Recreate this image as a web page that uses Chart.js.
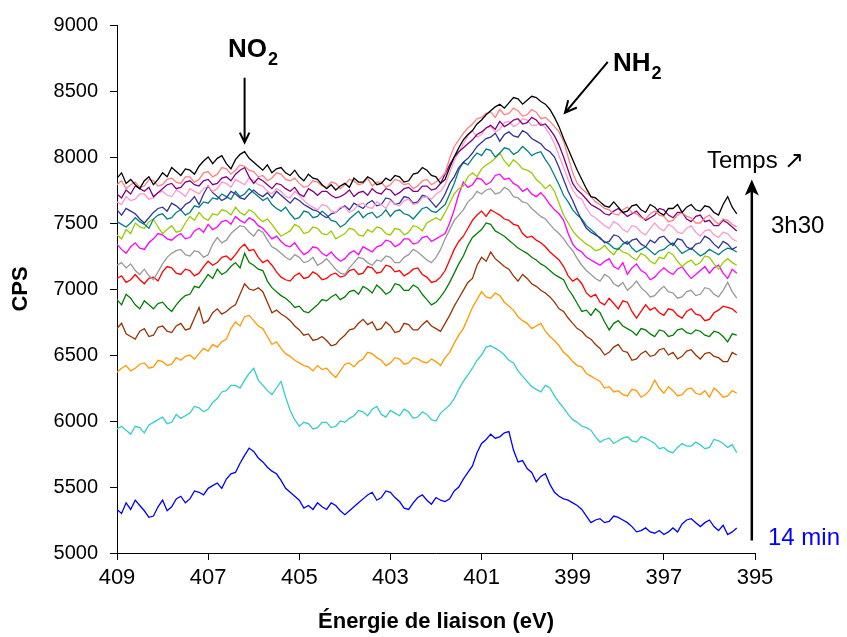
<!DOCTYPE html>
<html>
<head>
<meta charset="utf-8">
<script src="https://cdn.jsdelivr.net/npm/chart.js@4"></script>
<style>
	body { margin: 0; background: #fff; }
</style>
</head>
<body>
<canvas id="xps" width="847" height="637"></canvas>
<script>
// énergies de liaison (eV), pas de 0.1
const energies = [
	409.0, 408.9, 408.8, 408.7, 408.6, 408.5, 408.4, 408.3, 408.2, 408.1, 408.0, 407.9, 407.8, 407.7, 407.6, 407.5, 407.4, 407.3, 407.2, 407.1, 407.0, 406.9, 406.8, 406.7, 406.6, 406.5, 406.4, 406.3, 406.2, 406.1, 406.0, 405.9, 405.8, 405.7, 405.6,
	405.5, 405.4, 405.3, 405.2, 405.1, 405.0, 404.9, 404.8, 404.7, 404.6, 404.5, 404.4, 404.3, 404.2, 404.1, 404.0, 403.9, 403.8, 403.7, 403.6, 403.5, 403.4, 403.3, 403.2, 403.1, 403.0, 402.9, 402.8, 402.7, 402.6, 402.5, 402.4, 402.3, 402.2, 402.1,
	402.0, 401.9, 401.8, 401.7, 401.6, 401.5, 401.4, 401.3, 401.2, 401.1, 401.0, 400.9, 400.8, 400.7, 400.6, 400.5, 400.4, 400.3, 400.2, 400.1, 400.0, 399.9, 399.8, 399.7, 399.6, 399.5, 399.4, 399.3, 399.2, 399.1, 399.0, 398.9, 398.8, 398.7, 398.6,
	398.5, 398.4, 398.3, 398.2, 398.1, 398.0, 397.9, 397.8, 397.7, 397.6, 397.5, 397.4, 397.3, 397.2, 397.1, 397.0, 396.9, 396.8, 396.7, 396.6, 396.5, 396.4, 396.3, 396.2, 396.1, 396.0, 395.9, 395.8, 395.7, 395.6, 395.5, 395.4
];

const xTicks = [409, 407, 405, 403, 401, 399, 397, 395];
const yTicks = [5000, 5500, 6000, 6500, 7000, 7500, 8000, 8500, 9000];

// spectres (CPS), du premier (14 min) au dernier (3h30)
const bleu = [
	5330, 5300, 5380, 5330, 5400, 5360, 5320, 5270, 5280, 5350, 5400, 5320, 5350, 5410, 5430, 5380, 5410, 5470, 5460, 5440, 5490, 5510, 5530, 5490, 5560, 5600, 5610, 5680, 5740, 5795, 5770, 5720, 5690, 5650, 5620,
	5600, 5550, 5490, 5460, 5430, 5400, 5340, 5360, 5330, 5380, 5350, 5330, 5380, 5360, 5320, 5290, 5320, 5350, 5380, 5410, 5440, 5460, 5400, 5420, 5470, 5460, 5420, 5390, 5340, 5330, 5380, 5420, 5440, 5400, 5370,
	5420, 5400, 5390, 5410, 5470, 5500, 5560, 5610, 5660, 5760, 5830, 5860, 5900, 5870, 5880, 5910, 5920, 5780, 5690, 5700, 5640, 5610, 5540, 5580, 5600, 5520, 5460, 5430, 5410, 5400, 5380, 5360, 5330, 5280, 5230,
	5250, 5260, 5230, 5240, 5280, 5270, 5250, 5230, 5200, 5160, 5170, 5190, 5160, 5150, 5170, 5140, 5160, 5190, 5160, 5220, 5250, 5260, 5230, 5200, 5230, 5250, 5200, 5170, 5210, 5140, 5160, 5190
];
const turquoise = [
	5940, 5960, 5930, 5900, 5960, 5950, 5910, 5970, 5990, 6010, 6030, 5980, 5990, 6050, 6020, 6040, 6060, 6110, 6100, 6070, 6090, 6140, 6170, 6220, 6230, 6270, 6270, 6250, 6310, 6360, 6400, 6310, 6270, 6230, 6200,
	6250, 6300, 6180, 6080, 6010, 5960, 5990, 5980, 5940, 5950, 5990, 5990, 5950, 5960, 6000, 5990, 6020, 6040, 6080, 6070, 6040, 6090, 6110, 6050, 6030, 6080, 6060, 6040, 6090, 6070, 6020, 6030, 6070, 6050, 6010,
	6000, 6060, 6090, 6120, 6170, 6240, 6300, 6350, 6400, 6460, 6500, 6560, 6570, 6550, 6530, 6500, 6460, 6440, 6380, 6340, 6300, 6260, 6240, 6220, 6270, 6250, 6190, 6140, 6100, 6050, 6010, 5990, 5960, 5950, 5930,
	5880, 5840, 5860, 5870, 5830, 5850, 5870, 5880, 5850, 5840, 5880, 5870, 5850, 5830, 5790, 5800, 5770, 5760, 5800, 5830, 5810, 5810, 5840, 5820, 5790, 5800, 5860, 5850, 5830, 5800, 5820, 5760
];
const orange = [
	6370, 6400, 6420, 6380, 6400, 6430, 6440, 6400, 6410, 6460, 6450, 6420, 6430, 6480, 6460, 6490, 6500, 6470, 6510, 6550, 6530, 6580, 6560, 6600, 6620, 6700, 6750, 6720, 6790, 6800, 6760, 6720, 6700, 6640, 6580,
	6600, 6550, 6510, 6490, 6460, 6440, 6420, 6410, 6380, 6420, 6390, 6400, 6360, 6330, 6380, 6430, 6440, 6410, 6450, 6470, 6520, 6510, 6480, 6460, 6420, 6440, 6480, 6470, 6430, 6440, 6480, 6470, 6450, 6440, 6470,
	6450, 6420, 6480, 6520, 6590, 6650, 6700, 6780, 6860, 6920, 6980, 6940, 6930, 6970, 6950, 6900, 6870, 6840, 6790, 6760, 6740, 6700, 6720, 6740, 6680, 6640, 6610, 6570, 6520, 6490, 6450, 6420, 6410, 6360, 6340,
	6320, 6300, 6250, 6260, 6220, 6230, 6200, 6190, 6240, 6230, 6180, 6200, 6240, 6310, 6250, 6210, 6260, 6230, 6190, 6200, 6240, 6250, 6210, 6200, 6230, 6180, 6250, 6220, 6180, 6190, 6230, 6210
];
const marron = [
	6700, 6740, 6660, 6640, 6620, 6680, 6700, 6640, 6650, 6710, 6720, 6680, 6670, 6720, 6740, 6690, 6700, 6780, 6860, 6740, 6760, 6820, 6850, 6810, 6830, 6860, 6880, 6960, 7040, 7000, 6990, 7010, 6980, 6900, 6820,
	6840, 6810, 6790, 6760, 6720, 6690, 6650, 6660, 6610, 6620, 6640, 6610, 6570, 6580, 6620, 6650, 6690, 6700, 6740, 6770, 6730, 6750, 6690, 6700, 6750, 6720, 6670, 6680, 6740, 6730, 6690, 6690, 6730, 6760, 6720,
	6700, 6680, 6740, 6800, 6870, 6930, 6990, 7050, 7080, 7180, 7240, 7210, 7280, 7230, 7200, 7170, 7150, 7100, 7060, 7110, 7080, 7040, 7020, 6990, 6970, 6940, 6900, 6850, 6830, 6780, 6740, 6700, 6680, 6640, 6620,
	6580, 6550, 6500, 6520, 6560, 6580, 6530, 6520, 6460, 6470, 6510, 6530, 6490, 6500, 6540, 6550, 6500, 6520, 6470, 6490, 6530, 6540, 6500, 6470, 6510, 6520, 6490, 6480, 6450, 6450, 6520, 6500
];
const vert = [
	6920, 6880, 6960, 6930, 6880, 6850, 6910, 6880, 6850, 6890, 6900, 6860, 6830, 6880, 6920, 6950, 6960, 7020, 7010, 7060, 7110, 7080, 7150, 7110, 7130, 7170, 7200, 7160, 7270, 7200, 7180, 7150, 7140, 7060, 7010,
	6980, 6950, 6930, 6900, 6860, 6870, 6830, 6820, 6850, 6880, 6920, 6910, 6940, 6960, 6920, 6940, 6980, 6990, 6960, 7020, 7000, 6970, 7030, 7000, 6960, 6980, 7040, 7030, 6990, 6990, 7030, 7010, 6960, 6920, 6880,
	6900, 6940, 6990, 7050, 7120, 7190, 7250, 7330, 7390, 7420, 7450, 7500, 7490, 7440, 7420, 7400, 7370, 7340, 7310, 7290, 7270, 7240, 7220, 7190, 7170, 7140, 7110, 7090, 7070, 7000, 6950, 6890, 6830, 6840, 6800,
	6850, 6820, 6750, 6690, 6740, 6760, 6720, 6700, 6680, 6650, 6700, 6690, 6660, 6640, 6690, 6680, 6640, 6650, 6690, 6700, 6670, 6660, 6690, 6680, 6650, 6640, 6680, 6670, 6640, 6600, 6660, 6650
];
const rouge = [
	7080, 7100, 7050, 7070, 7110, 7070, 7040, 7080, 7090, 7060, 7130, 7170, 7160, 7120, 7110, 7150, 7140, 7100, 7120, 7170, 7210, 7180, 7200, 7240, 7250, 7220, 7260, 7310, 7340, 7290, 7300, 7240, 7200, 7220, 7180,
	7130, 7090, 7070, 7060, 7100, 7120, 7080, 7090, 7130, 7110, 7070, 7080, 7110, 7120, 7090, 7100, 7140, 7150, 7110, 7120, 7170, 7160, 7120, 7130, 7180, 7170, 7130, 7140, 7100, 7120, 7150, 7160, 7110, 7090, 7050,
	7060, 7090, 7140, 7220, 7300, 7360, 7400, 7460, 7520, 7560, 7590, 7550, 7600, 7580, 7560, 7530, 7520, 7490, 7480, 7420, 7390, 7400, 7370, 7350, 7320, 7280, 7250, 7220, 7170, 7100, 7060, 7080, 7040, 6970, 6940,
	6960, 6900, 6880, 6930, 6890, 6850, 6910, 6900, 6830, 6780, 6830, 6880, 6840, 6860, 6820, 6800, 6850, 6840, 6800, 6780, 6830, 6850, 6810, 6800, 6760, 6770, 6820, 6840, 6870, 6860, 6850, 6820
];
const gris = [
	7180, 7200, 7160, 7190, 7140, 7110, 7150, 7100, 7070, 7130, 7190, 7240, 7270, 7290, 7300, 7260, 7250, 7290, 7280, 7240, 7260, 7340, 7390, 7350, 7370, 7420, 7450, 7480, 7470, 7430, 7400, 7450, 7430, 7370, 7320,
	7300, 7270, 7240, 7220, 7260, 7240, 7200, 7210, 7240, 7180, 7200, 7230, 7190, 7150, 7120, 7110, 7160, 7200, 7240, 7230, 7200, 7180, 7220, 7210, 7250, 7240, 7200, 7200, 7240, 7260, 7300, 7280, 7250, 7220, 7200,
	7240, 7300, 7380, 7450, 7520, 7560, 7600, 7660, 7690, 7740, 7720, 7750, 7760, 7720, 7730, 7770, 7750, 7700, 7690, 7660, 7650, 7610, 7580, 7550, 7530, 7490, 7450, 7420, 7380, 7330, 7290, 7230, 7180, 7140, 7110,
	7080, 7060, 7110, 7090, 7040, 7020, 7050, 6990, 7020, 7060, 7010, 6980, 6940, 6950, 6990, 7020, 6980, 6970, 6930, 6940, 6980, 6990, 6950, 6960, 7010, 7000, 6960, 6940, 6990, 7050, 6980, 6930
];
const magenta = [
	7340, 7300, 7270, 7320, 7350, 7310, 7300, 7350, 7380, 7420, 7410, 7380, 7370, 7400, 7420, 7380, 7390, 7440, 7460, 7430, 7490, 7450, 7470, 7510, 7520, 7490, 7550, 7520, 7500, 7540, 7520, 7480, 7460, 7420, 7380,
	7400, 7360, 7330, 7320, 7350, 7300, 7260, 7280, 7320, 7310, 7270, 7250, 7280, 7240, 7210, 7230, 7270, 7290, 7260, 7320, 7300, 7280, 7320, 7330, 7370, 7360, 7320, 7340, 7380, 7380, 7340, 7350, 7390, 7400, 7360,
	7380, 7400, 7420, 7500, 7600, 7720, 7810, 7770, 7790, 7840, 7830, 7790, 7810, 7860, 7870, 7830, 7840, 7800, 7780, 7740, 7760, 7720, 7700, 7730, 7690, 7640, 7600, 7570, 7520, 7420, 7340, 7300, 7280, 7240, 7220,
	7200, 7180, 7210, 7230, 7170, 7150, 7200, 7110, 7160, 7190, 7140, 7120, 7070, 7090, 7130, 7160, 7130, 7110, 7150, 7170, 7120, 7080, 7110, 7140, 7170, 7120, 7160, 7180, 7120, 7080, 7150, 7120
];
const jauneVert = [
	7410, 7380, 7450, 7420, 7500, 7470, 7460, 7510, 7530, 7470, 7420, 7450, 7480, 7430, 7440, 7500, 7550, 7520, 7580, 7540, 7520, 7570, 7560, 7600, 7590, 7560, 7620, 7580, 7560, 7600, 7580, 7540, 7510, 7530, 7490,
	7440, 7400, 7420, 7440, 7490, 7470, 7420, 7430, 7470, 7460, 7420, 7410, 7440, 7380, 7400, 7420, 7460, 7450, 7410, 7400, 7450, 7430, 7470, 7460, 7420, 7410, 7460, 7450, 7410, 7430, 7480, 7470, 7440, 7500, 7520,
	7540, 7520, 7580, 7650, 7720, 7760, 7780, 7850, 7880, 7850, 7910, 7940, 7960, 7990, 8030, 7970, 7930, 7980, 7950, 7910, 7900, 7880, 7830, 7800, 7760, 7790, 7740, 7650, 7560, 7500, 7440, 7400, 7370, 7340, 7320,
	7290, 7300, 7330, 7290, 7260, 7310, 7280, 7270, 7240, 7220, 7270, 7250, 7210, 7190, 7240, 7230, 7280, 7260, 7210, 7170, 7200, 7220, 7180, 7200, 7250, 7240, 7190, 7150, 7200, 7230, 7200, 7180
];
const sarcelle = [
	7510, 7490, 7470, 7500, 7540, 7510, 7490, 7460, 7530, 7560, 7570, 7530, 7540, 7580, 7600, 7560, 7580, 7630, 7620, 7660, 7650, 7690, 7680, 7720, 7700, 7680, 7740, 7700, 7720, 7760, 7730, 7700, 7670, 7690, 7640,
	7610, 7590, 7620, 7570, 7530, 7540, 7590, 7580, 7540, 7550, 7590, 7560, 7520, 7510, 7470, 7490, 7530, 7560, 7590, 7540, 7570, 7580, 7540, 7560, 7600, 7550, 7590, 7600, 7570, 7560, 7530, 7570, 7610, 7620, 7590,
	7580, 7610, 7640, 7720, 7800, 7900, 7960, 7940, 7990, 8030, 8010, 8060, 8050, 8000, 8030, 8070, 8060, 8020, 8040, 8080, 8050, 8010, 8030, 8040, 7980, 7930, 7860, 7790, 7710, 7660, 7600, 7560, 7530, 7480, 7450,
	7420, 7380, 7360, 7340, 7310, 7300, 7340, 7360, 7310, 7280, 7300, 7320, 7290, 7260, 7290, 7300, 7330, 7350, 7310, 7270, 7290, 7310, 7280, 7250, 7270, 7300, 7280, 7260, 7290, 7310, 7300, 7280
];
const bleuFonce = [
	7600, 7560, 7610, 7590, 7570, 7530, 7500, 7540, 7580, 7610, 7620, 7590, 7650, 7630, 7600, 7640, 7660, 7700, 7640, 7720, 7780, 7730, 7700, 7670, 7690, 7740, 7720, 7690, 7680, 7720, 7750, 7720, 7700, 7730, 7690,
	7740, 7710, 7680, 7650, 7690, 7670, 7640, 7620, 7600, 7590, 7560, 7540, 7570, 7580, 7610, 7630, 7600, 7650, 7630, 7610, 7650, 7670, 7630, 7640, 7690, 7680, 7640, 7650, 7700, 7690, 7650, 7660, 7710, 7700, 7660,
	7620, 7660, 7720, 7800, 7850, 7920, 7960, 7990, 8030, 8080, 8110, 8140, 8150, 8180, 8120, 8170, 8190, 8160, 8150, 8200, 8180, 8140, 8120, 8100, 8060, 8040, 8000, 7920, 7830, 7740, 7670, 7590, 7520, 7460, 7430,
	7410, 7390, 7350, 7360, 7410, 7400, 7360, 7340, 7370, 7380, 7340, 7320, 7370, 7350, 7390, 7400, 7360, 7330, 7380, 7370, 7320, 7300, 7340, 7350, 7400, 7380, 7340, 7310, 7360, 7340, 7300, 7320
];
const rose = [
	7660, 7640, 7700, 7670, 7680, 7720, 7720, 7680, 7690, 7730, 7740, 7710, 7700, 7750, 7730, 7700, 7760, 7740, 7720, 7760, 7780, 7740, 7760, 7810, 7800, 7770, 7830, 7810, 7790, 7840, 7820, 7790, 7780, 7740, 7720,
	7760, 7740, 7700, 7690, 7740, 7710, 7670, 7640, 7620, 7600, 7640, 7630, 7590, 7580, 7620, 7620, 7580, 7600, 7640, 7650, 7620, 7610, 7660, 7640, 7610, 7670, 7640, 7630, 7670, 7680, 7640, 7650, 7690, 7700, 7680,
	7720, 7740, 7790, 7880, 7970, 8040, 8100, 8160, 8200, 8150, 8170, 8220, 8230, 8190, 8210, 8260, 8270, 8230, 8250, 8290, 8280, 8240, 8240, 8260, 8220, 8170, 8100, 8010, 7920, 7830, 7750, 7700, 7680, 7610, 7560,
	7540, 7510, 7480, 7460, 7510, 7490, 7450, 7430, 7480, 7470, 7430, 7410, 7460, 7500, 7460, 7440, 7490, 7470, 7430, 7420, 7460, 7480, 7430, 7400, 7440, 7450, 7410, 7390, 7430, 7420, 7380, 7360
];
const violet = [
	7720, 7690, 7750, 7720, 7780, 7760, 7740, 7770, 7700, 7730, 7760, 7790, 7800, 7760, 7770, 7810, 7820, 7790, 7780, 7820, 7830, 7790, 7800, 7840, 7850, 7820, 7870, 7900, 7920, 7850, 7800, 7840, 7820, 7790, 7760,
	7800, 7790, 7760, 7740, 7770, 7720, 7700, 7760, 7740, 7710, 7740, 7740, 7710, 7690, 7700, 7720, 7750, 7700, 7730, 7740, 7710, 7760, 7730, 7720, 7760, 7750, 7710, 7730, 7760, 7770, 7740, 7740, 7780, 7780, 7750,
	7760, 7800, 7870, 7940, 8000, 8040, 8070, 8100, 8130, 8170, 8190, 8220, 8240, 8210, 8270, 8230, 8250, 8280, 8290, 8250, 8260, 8300, 8280, 8240, 8250, 8210, 8160, 8090, 8000, 7900, 7800, 7750, 7720, 7680, 7640,
	7620, 7600, 7570, 7560, 7590, 7610, 7580, 7550, 7570, 7590, 7550, 7520, 7540, 7560, 7610, 7600, 7560, 7540, 7580, 7580, 7530, 7510, 7550, 7560, 7510, 7520, 7480, 7480, 7520, 7500, 7470, 7440
];
const saumon = [
	7790, 7820, 7760, 7790, 7810, 7770, 7780, 7830, 7820, 7780, 7790, 7830, 7840, 7810, 7800, 7850, 7850, 7810, 7830, 7880, 7890, 7850, 7870, 7920, 7910, 7870, 7900, 7940, 7930, 7900, 7890, 7850, 7860, 7820, 7840,
	7880, 7870, 7830, 7820, 7840, 7800, 7770, 7780, 7820, 7810, 7780, 7770, 7810, 7800, 7760, 7790, 7830, 7820, 7790, 7800, 7840, 7780, 7810, 7810, 7770, 7790, 7830, 7820, 7790, 7800, 7760, 7780, 7820, 7830, 7790,
	7810, 7840, 7880, 7990, 8080, 8130, 8180, 8220, 8250, 8290, 8300, 8330, 8340, 8300, 8360, 8320, 8330, 8370, 8350, 8310, 8320, 8360, 8340, 8290, 8300, 8270, 8230, 8190, 8120, 8000, 7880, 7800, 7760, 7730, 7700,
	7660, 7640, 7610, 7600, 7570, 7560, 7600, 7620, 7580, 7570, 7540, 7530, 7570, 7590, 7560, 7550, 7510, 7520, 7560, 7580, 7550, 7540, 7500, 7500, 7540, 7560, 7520, 7490, 7530, 7520, 7490, 7470
];
const noir = [
	7840, 7880, 7800, 7830, 7790, 7760, 7820, 7850, 7790, 7830, 7880, 7850, 7920, 7890, 7860, 7910, 7900, 7870, 7930, 7970, 8000, 7950, 7990, 8010, 7950, 7910, 7980, 8020, 8040, 7990, 7960, 7930, 7900, 7940, 7880,
	7910, 7920, 7880, 7860, 7900, 7850, 7820, 7870, 7840, 7830, 7790, 7760, 7790, 7750, 7780, 7800, 7770, 7840, 7810, 7810, 7850, 7830, 7790, 7800, 7840, 7820, 7860, 7850, 7810, 7820, 7870, 7880, 7920, 7900, 7860,
	7850, 7800, 7830, 7920, 8000, 8070, 8130, 8170, 8200, 8250, 8280, 8320, 8350, 8380, 8400, 8370, 8410, 8450, 8440, 8400, 8430, 8460, 8450, 8420, 8400, 8360, 8300, 8230, 8140, 8060, 7980, 7900, 7830, 7760, 7700,
	7690, 7660, 7630, 7620, 7660, 7620, 7580, 7590, 7630, 7640, 7600, 7580, 7640, 7620, 7580, 7560, 7610, 7610, 7640, 7580, 7620, 7640, 7600, 7590, 7630, 7620, 7580, 7560, 7640, 7700, 7620, 7570
];

const series = [
	{ label: '14 min', data: bleu, color: '#0000FF' },
	{ label: 'turquoise', data: turquoise, color: '#33CCCC' },
	{ label: 'orange', data: orange, color: '#FF9900' },
	{ label: 'marron', data: marron, color: '#993300' },
	{ label: 'vert', data: vert, color: '#008000' },
	{ label: 'rouge', data: rouge, color: '#FF0000' },
	{ label: 'gris', data: gris, color: '#999999' },
	{ label: 'magenta', data: magenta, color: '#FF00FF' },
	{ label: 'jaune-vert', data: jauneVert, color: '#99CC00' },
	{ label: 'sarcelle', data: sarcelle, color: '#008080' },
	{ label: 'bleu foncé', data: bleuFonce, color: '#333399' },
	{ label: 'rose', data: rose, color: '#FF99CC' },
	{ label: 'violet', data: violet, color: '#800080' },
	{ label: 'saumon', data: saumon, color: '#FF8080' },
	{ label: '3h30', data: noir, color: '#000000' }
];

const FONT = "'Liberation Sans', Arial, sans-serif";

const drawArrowOpen = (ctx, x1, y1, x2, y2, head) => {
	const a = Math.atan2(y2 - y1, x2 - x1);
	ctx.beginPath();
	ctx.moveTo(x1, y1);
	ctx.lineTo(x2, y2);
	ctx.moveTo(x2 - head * Math.cos(a - 0.45), y2 - head * Math.sin(a - 0.45));
	ctx.lineTo(x2, y2);
	ctx.lineTo(x2 - head * Math.cos(a + 0.45), y2 - head * Math.sin(a + 0.45));
	ctx.stroke();
};

const drawLabel = (ctx, main, sub, x, y) => {
	ctx.font = 'bold 26px ' + FONT;
	ctx.fillText(main, x, y);
	const w = ctx.measureText(main).width;
	ctx.font = 'bold 18px ' + FONT;
	ctx.fillText(sub, x + w + 1, y + 8);
};

const annotations = {
	id: 'annotations',
	afterDraw(chart) {
		const { ctx } = chart;
		const sx = chart.scales.x;
		const sy = chart.scales.y;
		ctx.save();
		ctx.fillStyle = '#000';
		ctx.strokeStyle = '#000';
		ctx.lineWidth = 2;
		ctx.textBaseline = 'alphabetic';
		ctx.textAlign = 'left';

		// NO2
		drawLabel(ctx, 'NO', '2', 228, 57);
		drawArrowOpen(ctx, sx.getPixelForValue(406.2), sy.getPixelForValue(8600), sx.getPixelForValue(406.2), sy.getPixelForValue(8110), 11);

		// NH2
		drawLabel(ctx, 'NH', '2', 613, 71);
		drawArrowOpen(ctx, sx.getPixelForValue(398.23), sy.getPixelForValue(8720), sx.getPixelForValue(399.17), sy.getPixelForValue(8335), 13);

		// flèche du temps
		const tx = sx.getPixelForValue(395.07);
		const tTop = sy.getPixelForValue(7830);
		ctx.lineWidth = 2.5;
		ctx.beginPath();
		ctx.moveTo(tx, sy.getPixelForValue(5095));
		ctx.lineTo(tx, tTop + 10);
		ctx.stroke();
		ctx.beginPath();
		ctx.moveTo(tx, tTop);
		ctx.lineTo(tx - 7, tTop + 16);
		ctx.lineTo(tx, tTop + 12);
		ctx.lineTo(tx + 7, tTop + 16);
		ctx.closePath();
		ctx.fill();

		ctx.font = '24px ' + FONT;
		ctx.fillText('Temps ↗', 707, 168);
		ctx.fillText('3h30', 771, 233);
		ctx.fillStyle = '#0000FF';
		ctx.fillText('14 min', 768, 545);
		ctx.restore();
	}
};

const ctx = document.getElementById('xps').getContext('2d');
new Chart(ctx, {
	type: 'line',
	data: {
		datasets: series.slice().reverse().map(s => ({
			label: s.label,
			data: s.data.map((v, i) => ({ x: energies[i], y: v })),
			borderColor: s.color,
			borderWidth: 1.3,
			pointRadius: 0,
			tension: 0,
			fill: false
		}))
	},
	options: {
		responsive: false,
		animation: false,
		devicePixelRatio: 1,
		layout: { padding: { left: 0, right: 92, top: 25, bottom: 0 } },
		plugins: {
			legend: { display: false },
			tooltip: { enabled: false }
		},
		scales: {
			x: {
				type: 'linear',
				reverse: true,
				min: 395,
				max: 409,
				afterBuildTicks: scale => { scale.ticks = xTicks.map(v => ({ value: v })); },
				afterFit: scale => { scale.height = 84; },
				ticks: {
					color: '#000',
					font: { family: FONT, size: 22 },
					padding: 5,
					maxRotation: 0,
					autoSkip: false,
					callback: v => String(v)
				},
				grid: { drawOnChartArea: false, drawTicks: true, tickLength: 7, color: '#000' },
				border: { display: true, color: '#000', width: 1 },
				title: {
					display: true,
					text: 'Énergie de liaison (eV)',
					color: '#000',
					font: { family: FONT, size: 22, weight: 'bold' },
					padding: { top: 0, bottom: 2 }
				}
			},
			y: {
				type: 'linear',
				min: 5000,
				max: 9000,
				afterBuildTicks: scale => { scale.ticks = yTicks.map(v => ({ value: v })); },
				afterFit: scale => { scale.width = 117; },
				ticks: {
					color: '#000',
					font: { family: FONT, size: 20 },
					padding: 12,
					callback: v => String(v)
				},
				grid: { drawOnChartArea: false, drawTicks: true, tickLength: 7, color: '#000' },
				border: { display: true, color: '#000', width: 1 },
				title: {
					display: true,
					text: 'CPS',
					color: '#000',
					font: { family: FONT, size: 22, weight: 'bold' },
					padding: { top: 8, bottom: 0 }
				}
			}
		}
	},
	plugins: [annotations]
});
</script>
</body>
</html>
